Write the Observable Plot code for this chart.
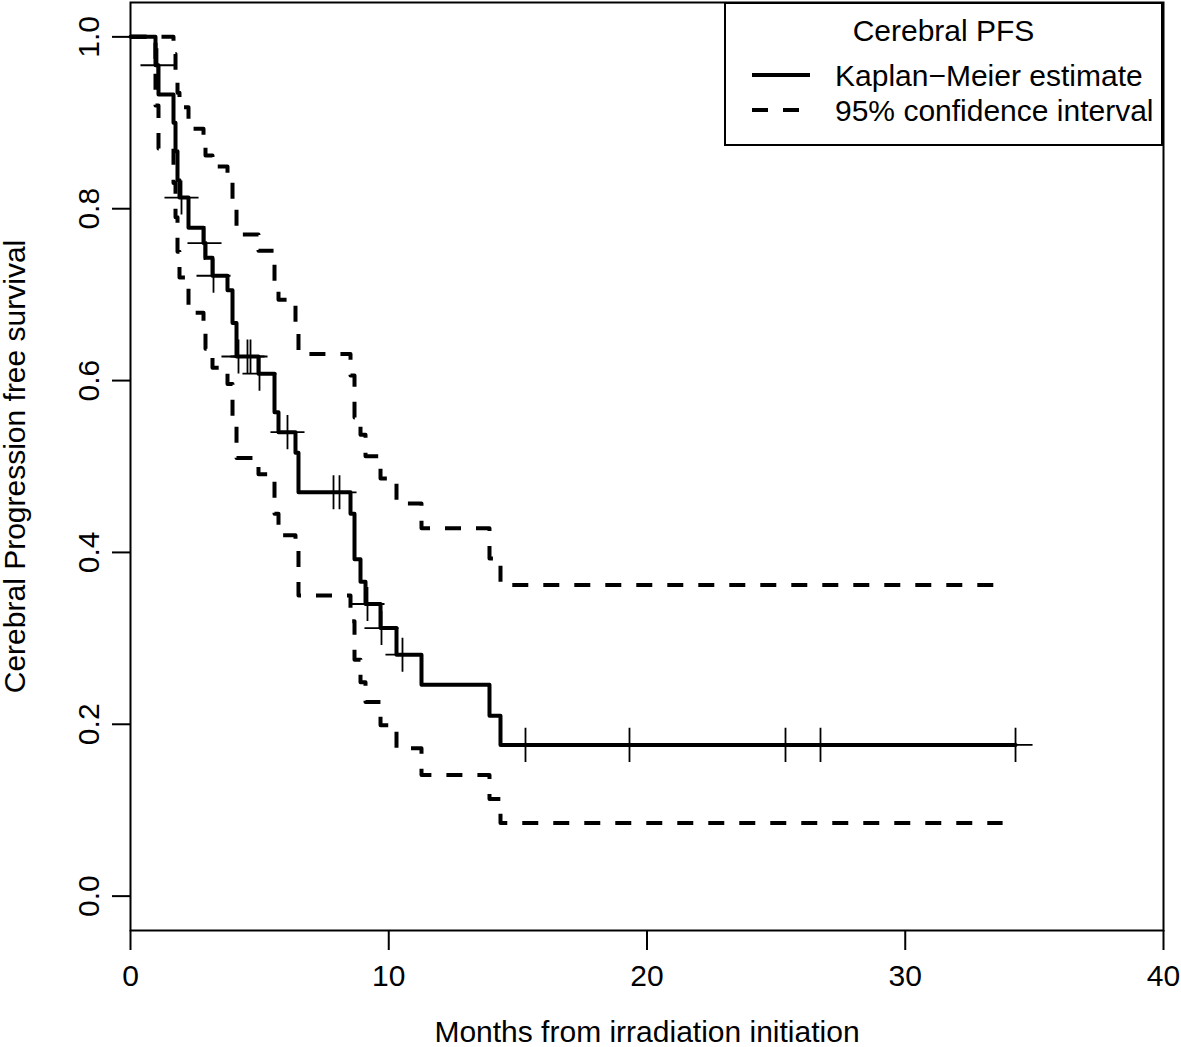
<!DOCTYPE html>
<html>
<head>
<meta charset="utf-8">
<script src="https://cdn.jsdelivr.net/npm/d3@7"></script>
<script src="https://cdn.jsdelivr.net/npm/@observablehq/plot@0.6"></script>
<style>
  body { margin: 0; background: #fff; }
  #wrap { position: relative; width: 1181px; height: 1047px; font-family: "Liberation Sans", Arial, Helvetica, sans-serif; }
  #legend { position: absolute; left: 724px; top: 2px; }
</style>
</head>
<body>
<div id="wrap"></div>
<script>
// ---- Data ----
// Kaplan-Meier step curve (time in months, survival probability)
const kmTime = [0, 0.968, 1.084, 1.665, 1.743, 1.820, 1.897, 2.246, 2.827, 2.904, 3.175, 3.756, 3.950, 4.105, 4.956, 5.576, 5.731, 6.389, 6.505, 8.519, 8.674, 8.906, 9.100, 9.681, 10.300, 11.268, 13.901, 14.327, 34.27];
const kmSurv = [1.000, 0.967, 0.933, 0.900, 0.867, 0.833, 0.813, 0.778, 0.760, 0.743, 0.722, 0.705, 0.667, 0.628, 0.608, 0.563, 0.540, 0.516, 0.470, 0.445, 0.392, 0.366, 0.340, 0.312, 0.281, 0.246, 0.210, 0.176, 0.176];

// 95% confidence interval step curves
const ciTime  = [0, 0.968, 1.084, 1.665, 1.743, 1.820, 1.897, 2.246, 2.827, 2.904, 3.175, 3.756, 3.950, 4.105, 4.956, 5.576, 5.731, 6.389, 6.505, 8.519, 8.674, 8.906, 9.100, 9.681, 10.300, 11.268, 13.901, 14.327, 33.77];
const ciUpper = [1.000, 1.000, 1.000, 0.980, 0.955, 0.935, 0.918, 0.893, 0.878, 0.862, 0.849, 0.834, 0.800, 0.770, 0.751, 0.714, 0.694, 0.655, 0.631, 0.606, 0.557, 0.537, 0.512, 0.486, 0.457, 0.428, 0.393, 0.362, 0.362];
const ciLower = [1.000, 0.920, 0.870, 0.830, 0.790, 0.750, 0.720, 0.679, 0.658, 0.637, 0.615, 0.596, 0.553, 0.510, 0.491, 0.445, 0.420, 0.405, 0.350, 0.320, 0.275, 0.249, 0.226, 0.199, 0.172, 0.141, 0.113, 0.085, 0.085];

// Censoring marks
const censorTime = [1.045, 1.975, 2.865, 3.214, 4.182, 4.530, 4.647, 4.995, 6.079, 7.861, 8.093, 9.177, 9.719, 10.532, 15.295, 19.322, 25.363, 26.718, 34.27];
const censorSurv = [0.967, 0.813, 0.760, 0.722, 0.628, 0.628, 0.628, 0.608, 0.540, 0.470, 0.470, 0.340, 0.312, 0.281, 0.176, 0.176, 0.176, 0.176, 0.176];

// Axes
const xTicks = [0, 10, 20, 30, 40];
const yTicks = [0, 0.2, 0.4, 0.6, 0.8, 1.0];
const xTitle = "Months from irradiation initiation";
const yTitle = "Cerebral Progression free survival";

// Legend
const legendTitle = "Cerebral PFS";
const legendItems = [
  {label: "Kaplan\u2212Meier estimate", dash: null},
  {label: "95% confidence interval", dash: "16,15"}
];

// ---- Build tables ----
const km = kmTime.map((t, i) => ({t, s: kmSurv[i]}));
const up = ciTime.map((t, i) => ({t, s: ciUpper[i]}));
const lo = ciTime.map((t, i) => ({t, s: ciLower[i]}));
const cens = censorTime.map((t, i) => ({t, s: censorSurv[i]}));

const FONT = '"Liberation Sans", Arial, Helvetica, sans-serif';

const plot = Plot.plot({
  width: 1181,
  height: 1047,
  marginLeft: 130,
  marginRight: 18,
  marginTop: 2,
  marginBottom: 117,
  style: {fontFamily: FONT, fontSize: "30px", color: "#000", background: "#fff", overflow: "visible"},
  x: {domain: [0, 40]},
  y: {domain: [-0.04, 1.04]},
  marks: [
    Plot.axisX(xTicks, {tickSize: 20, tickPadding: 14, fontSize: 30, strokeWidth: 2, label: null, tickFormat: d => String(d)}),
    Plot.axisY(yTicks, {tickSize: 18, strokeWidth: 2, label: null, tickFormat: () => ""}),
    Plot.text(yTicks, {y: d => d, frameAnchor: "left", textAnchor: "middle", dx: -41, rotate: -90, text: d => d3.format(".1f")(d), fontSize: 30, fill: "#000"}),
    Plot.text([xTitle], {frameAnchor: "bottom", textAnchor: "middle", dy: 111, text: d => d, fontSize: 30, fill: "#000"}),
    Plot.text([yTitle], {frameAnchor: "left", textAnchor: "middle", dx: -115, rotate: -90, text: d => d, fontSize: 30, fill: "#000"}),
    Plot.line(up, {x: "t", y: "s", curve: "step-after", stroke: "#000", strokeWidth: 4, strokeDasharray: "16,15", strokeLinecap: "butt"}),
    Plot.line(lo, {x: "t", y: "s", curve: "step-after", stroke: "#000", strokeWidth: 4, strokeDasharray: "16,15", strokeLinecap: "butt"}),
    Plot.line(km, {x: "t", y: "s", curve: "step-after", stroke: "#000", strokeWidth: 4}),
    Plot.dot(cens, {x: "t", y: "s", symbol: "plus", r: 11, stroke: "#000", strokeWidth: 1.8}),
    Plot.frame({stroke: "#000", strokeWidth: 2})
  ]
});

const wrap = document.getElementById("wrap");
wrap.appendChild(plot);

// Legend (top-right box, like R's legend("topright"))
const lw = 439, lh = 144;
const lg = d3.select(wrap).append("svg")
  .attr("id", "legend")
  .attr("width", lw).attr("height", lh)
  .style("font-family", FONT);
lg.append("rect").attr("x", 1).attr("y", 1).attr("width", lw - 2).attr("height", lh - 2)
  .attr("fill", "#fff").attr("stroke", "#000").attr("stroke-width", 2);
lg.append("text").attr("x", lw / 2).attr("y", 39).attr("text-anchor", "middle")
  .attr("font-size", 30).text(legendTitle);
legendItems.forEach((it, i) => {
  const yc = 73 + i * 35;
  lg.append("line").attr("x1", 28).attr("x2", 86).attr("y1", yc).attr("y2", yc)
    .attr("stroke", "#000").attr("stroke-width", 4)
    .attr("stroke-dasharray", it.dash);
  lg.append("text").attr("x", 111).attr("y", yc + 10.5).attr("font-size", 30).text(it.label);
});
</script>
</body>
</html>
